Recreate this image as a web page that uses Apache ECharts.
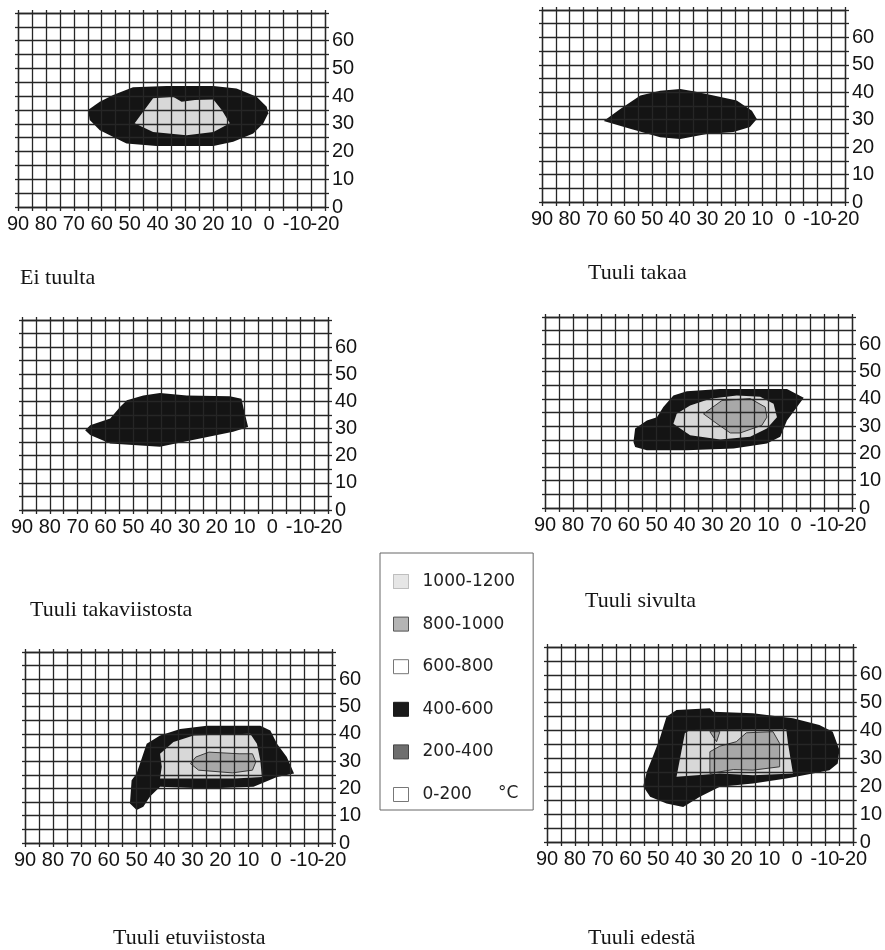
<!DOCTYPE html>
<html><head><meta charset="utf-8">
<script src="https://cdn.jsdelivr.net/npm/echarts@6/dist/echarts.min.js"></script>
<style>html,body{margin:0;padding:0;background:#fff}#c{width:885px;height:950px}</style>
</head><body><div id="c"></div><script>
// ---- tick labels ----
const xTickLabels = [90, 80, 70, 60, 50, 40, 30, 20, 10, 0, -10, -20];
const yTickLabels = [0, 10, 20, 30, 40, 50, 60];
// ---- panel titles ----
const panelTitles = ['Ei tuulta', 'Tuuli takaa', 'Tuuli takaviistosta', 'Tuuli sivulta', 'Tuuli etuviistosta', 'Tuuli edestä'];
// ---- legend bands (°C) ----
const legendBands = ['1000-1200', '800-1000', '600-800', '400-600', '200-400', '0-200'];

// ---- contour outlines, [distance, height] ----
const eiTuulta_400_600 = [[64.9,35],[64.3,31.4],[60.7,27.7],[53.5,24.1],[51.1,22.9],[40.4,22],[20,22],[12.9,23.5],[5.7,26.5],[2.1,30.2],[0.3,33.8],[0.9,36.2],[4.5,39.8],[11.7,42.8],[20,43.7],[36.8,43.7],[48.8,43.2],[55.9,40.4],[60.7,38]];
const eiTuulta_1000_1200 = [[48.2,30.2],[41.6,39.2],[34.4,39.8],[31.4,38],[26.6,38.6],[20,38.8],[17,35],[14.1,30.2],[20,27.1],[29.6,25.9],[41.6,27.1]];

const takaa_400_600 = [[67.6,29.5],[61.6,33.9],[54.3,38.8],[47.1,40.6],[39.8,41.2],[35,40.4],[27.7,38.8],[19.3,37],[13.8,33.3],[12,30.3],[14.5,27.3],[20.5,25.5],[30.2,24.8],[39.8,23],[47.1,23.6],[58,26.7]];

const takaviisto_400_600 = [[67.3,29.4],[65.5,31.2],[58.3,33.7],[54.7,38],[52.3,40.4],[46.4,42.2],[40.4,43.1],[30.8,42.2],[15.3,41.9],[11.1,41],[9.9,35.5],[8.7,30.6],[14.1,28.8],[26,26.3],[40.4,23.3],[58.3,24.5],[65.5,27.6]];

const sivulta_400_600 = [[58.3,24.2],[57.7,29.1],[53.5,32.1],[49.9,33.3],[47.6,37],[44,41.2],[39.2,42.8],[27.2,43.6],[3.3,43.6],[-2.7,40.4],[-0.3,37],[3.3,32.1],[5.7,26.1],[10.5,23.6],[22.4,21.8],[39.2,21.2],[53.5,21.2],[57.7,22.4]];
const sivulta_1000_1200 = [[44,30.9],[42.8,34.5],[38,37.6],[30.8,40],[21.3,41.2],[12.9,40.8],[8.1,38.2],[6.9,33.3],[10.5,29.1],[16.5,26.1],[27.2,25.1],[38,26.7]];
const sivulta_800_1000 = [[33.2,34.5],[26.6,39.4],[16.5,40.1],[11.1,37],[10.5,33.3],[12.3,30.3],[20.1,27.5],[23.6,27.5],[28.4,30.9]];

const etuviisto_400_600 = [[50,12.1],[52.4,14.5],[51.8,23],[50,25.5],[46.4,36.4],[41.6,39.4],[34.4,41.8],[24.8,43],[5.7,43],[2.1,41.2],[-0.3,36.4],[-3.8,31.5],[-6.4,25.5],[-0.3,24.2],[8.1,20.6],[24.8,20],[41.6,20.6],[45.2,17],[47.6,13.3]];
const etuviisto_1000_1200 = [[41.6,23.6],[41,27.9],[41.6,32.7],[36.8,37],[29.6,39.4],[9.3,40],[6.9,36.4],[5.7,30.3],[5.1,24.2],[14.9,23.6]];
const etuviisto_800_1000 = [[30.7,29.1],[28.8,31.5],[24.1,33.3],[13.3,32.7],[8.5,32.7],[7.3,29.7],[8.5,26.7],[15.7,25.7],[27.8,26.7]];

const edesta_400_600 = [[55.3,20.4],[54.1,25.2],[51.7,31.2],[49.4,37.2],[47,45],[43.4,47.4],[31.4,48],[30.2,46.8],[15.9,46.2],[1.5,44.4],[-8,42],[-12.8,39.6],[-15.2,33],[-14.6,28.2],[-11.6,25.8],[-5.6,24.6],[3.9,22.8],[15.9,21],[27.8,19.8],[35,16.2],[41,12.6],[47,13.8],[52.9,16.2],[55.3,19.8]];
const edesta_1000_1200 = [[43.4,23.4],[40.4,39],[38.6,40.2],[3.9,40.4],[3.3,35.4],[1.5,24.6],[15.9,24],[27.8,24.6]];
const edesta_800_1000 = [[31.4,24.6],[31.4,32.4],[27.8,34.4],[21.9,36],[18.3,39.2],[8.7,39.6],[6.3,35.4],[6.3,27],[15.9,25.8],[23,26]];
const edesta_800_1000b = [[31.4,39.6],[27.8,39.6],[29,36]];

const panelLayers = [
  [['400-600', eiTuulta_400_600], ['1000-1200', eiTuulta_1000_1200]],
  [['400-600', takaa_400_600]],
  [['400-600', takaviisto_400_600]],
  [['400-600', sivulta_400_600], ['1000-1200', sivulta_1000_1200], ['800-1000', sivulta_800_1000]],
  [['400-600', etuviisto_400_600], ['1000-1200', etuviisto_1000_1200], ['800-1000', etuviisto_800_1000]],
  [['400-600', edesta_400_600], ['1000-1200', edesta_1000_1200], ['800-1000', edesta_800_1000], ['800-1000', edesta_800_1000b]]
];

// ---- styles ----
const bandStyle = {
  '1000-1200': {fill: '#d8d8d8', stroke: '#d8d8d8', lineWidth: 0},
  '800-1000': {fill: '#a8a8a8', stroke: '#3a3a3a', lineWidth: 1},
  '600-800': {fill: '#ffffff', stroke: '#777', lineWidth: 1},
  '400-600': {fill: '#141414', stroke: '#141414', lineWidth: 0},
  '200-400': {fill: '#6e6e6e', stroke: '#555', lineWidth: 1},
  '0-200': {fill: '#ffffff', stroke: '#777', lineWidth: 1}
};
const legendIconStyle = {
  '1000-1200': {color: '#e6e6e6', borderColor: '#888', borderWidth: 1, borderType: 'dotted'},
  '800-1000': {color: '#b4b4b4', borderColor: '#555', borderWidth: 1},
  '600-800': {color: '#ffffff', borderColor: '#777', borderWidth: 1},
  '400-600': {color: '#1a1a1a', borderColor: '#1a1a1a', borderWidth: 1},
  '200-400': {color: '#6e6e6e', borderColor: '#444', borderWidth: 1},
  '0-200': {color: '#ffffff', borderColor: '#777', borderWidth: 1}
};

const gridBoxes = [
  {left: 18, top: 13, width: 307, height: 194},
  {left: 542, top: 10, width: 303, height: 192},
  {left: 22, top: 320, width: 306, height: 190},
  {left: 545, top: 317, width: 307, height: 191},
  {left: 25, top: 652, width: 307, height: 191},
  {left: 547, top: 647, width: 306, height: 195}
];
const titlePos = [
  {left: 20, top: 267}, {left: 588, top: 262},
  {left: 30, top: 599}, {left: 585, top: 590},
  {left: 113, top: 927}, {left: 588, top: 927}
];

const lineCol = '#262626';
const lineW = 1.3;
const axisFont = {fontFamily: 'Liberation Sans, Arial, sans-serif', fontSize: 20, color: '#141414'};

const xAxes = [], yAxes = [], series = [];
gridBoxes.forEach((g, i) => {
  xAxes.push({
    gridIndex: i, type: 'value', min: -20, max: 90, interval: 5, inverse: true, z: 5,
    axisLine: {show: true, onZero: false, lineStyle: {color: lineCol, width: lineW}},
    axisTick: {show: true, length: 4, lineStyle: {color: lineCol, width: lineW}},
    splitLine: {show: true, lineStyle: {color: lineCol, width: lineW}},
    axisLabel: Object.assign({margin: 7, showMinLabel: true, showMaxLabel: true,
      formatter: v => xTickLabels.includes(v) ? String(v) : ''}, axisFont)
  });
  // top edge: ticks only
  xAxes.push({
    gridIndex: i, type: 'value', position: 'top', min: -20, max: 90, interval: 5, inverse: true, z: 5,
    axisLine: {show: true, onZero: false, lineStyle: {color: lineCol, width: lineW}},
    axisTick: {show: true, length: 3, lineStyle: {color: lineCol, width: lineW}},
    splitLine: {show: false}, axisLabel: {show: false}
  });
  yAxes.push({
    gridIndex: i, type: 'value', min: 0, max: 70, interval: 5, position: 'right', z: 5,
    axisLine: {show: true, onZero: false, lineStyle: {color: lineCol, width: lineW}},
    axisTick: {show: true, length: 4, lineStyle: {color: lineCol, width: lineW}},
    splitLine: {show: true, lineStyle: {color: lineCol, width: lineW}},
    axisLabel: Object.assign({margin: 7, formatter: v => yTickLabels.includes(v) ? String(v) : ''}, axisFont)
  });
  // left edge: ticks only
  yAxes.push({
    gridIndex: i, type: 'value', min: 0, max: 70, interval: 5, position: 'left', z: 5,
    axisLine: {show: true, onZero: false, lineStyle: {color: lineCol, width: lineW}},
    axisTick: {show: true, length: 3, lineStyle: {color: lineCol, width: lineW}},
    splitLine: {show: false}, axisLabel: {show: false}
  });
  panelLayers[i].forEach((layer, j) => {
    const band = layer[0], poly = layer[1], st = bandStyle[band];
    series.push({
      type: 'custom', name: band, xAxisIndex: 2 * i, yAxisIndex: 2 * i, z: 2,
      data: poly, encode: {x: 0, y: 1}, silent: true, animation: false,
      itemStyle: {color: st.fill},
      renderItem: (params, api) => {
        if (params.dataIndex !== 0) return null;
        const pts = poly.map(p => api.coord(p));
        return {type: 'polygon', z2: j, shape: {points: pts},
          style: {fill: st.fill, stroke: st.lineWidth ? st.stroke : null, lineWidth: st.lineWidth}};
      }
    });
  });
});
// legend-only series for bands not drawn
['600-800', '200-400', '0-200'].forEach(band => {
  series.push({type: 'custom', name: band, xAxisIndex: 0, yAxisIndex: 0, data: [],
    itemStyle: {color: legendIconStyle[band].color}, renderItem: () => null});
});

const option = {
  animation: false,
  grid: gridBoxes.map(g => Object.assign({containLabel: false}, g)),
  xAxis: xAxes, yAxis: yAxes,
  title: panelTitles.map((t, i) => ({
    text: t, left: titlePos[i].left, top: titlePos[i].top, padding: 0,
    textStyle: {fontFamily: 'Liberation Serif, Times New Roman, serif', fontSize: 22, fontWeight: 'normal', color: '#151515'}
  })),
  legend: {
    orient: 'vertical', left: 380, top: 553, selectedMode: false,
    padding: [20, 18, 7, 13], itemGap: 25.6, itemWidth: 15, itemHeight: 14, icon: 'rect',
    borderColor: '#666', borderWidth: 1,
    textStyle: {fontFamily: 'DejaVu Sans, sans-serif', fontSize: 17, color: '#222', padding: [0, 0, 0, 9]},
    data: legendBands.map(b => ({name: b, itemStyle: legendIconStyle[b]}))
  },
  graphic: [{type: 'text', left: 498, top: 785, style: {text: '°C', font: '17px DejaVu Sans, sans-serif', fill: '#222'}}],
  series: series
};
const chart = echarts.init(document.getElementById('c'), null, {renderer: 'canvas'});
chart.setOption(option);
</script></body></html>
